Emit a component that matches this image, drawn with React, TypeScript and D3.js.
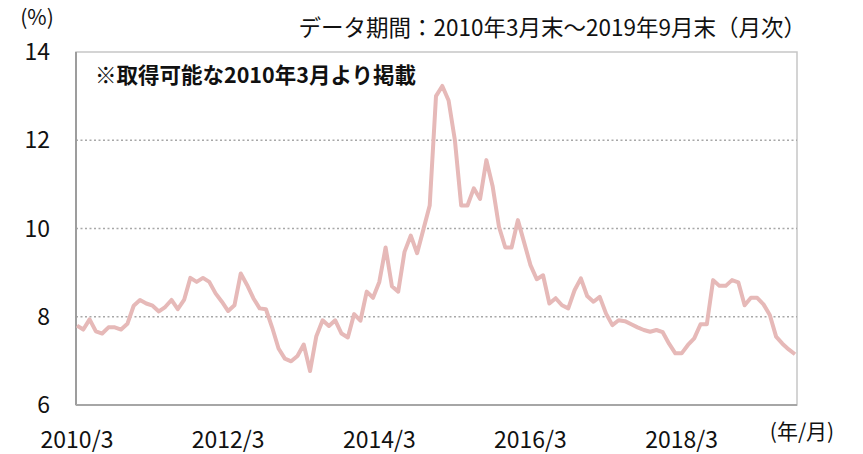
import React, { useEffect, useRef } from 'react';
import * as d3 from 'd3';

// monthly yield (%), 2010/3 .. 2019/9
const values = [
  7.8, 7.71, 7.94, 7.67, 7.62, 7.76, 7.76, 7.71, 7.84, 8.25,
  8.38, 8.3, 8.25, 8.12, 8.22, 8.38, 8.17, 8.38, 8.88, 8.79,
  8.88, 8.79, 8.53, 8.34, 8.13, 8.26, 8.98, 8.72, 8.42, 8.19,
  8.17, 7.75, 7.28, 7.05, 6.99, 7.11, 7.37, 6.77, 7.56, 7.92,
  7.79, 7.92, 7.62, 7.53, 8.06, 7.91, 8.57, 8.43, 8.79, 9.57,
  8.69, 8.57, 9.47, 9.84, 9.44, 9.98, 10.52, 13.0, 13.23, 12.9,
  12.0, 10.52, 10.52, 10.91, 10.67, 11.55, 10.95, 10.04, 9.57, 9.57,
  10.19, 9.68, 9.17, 8.85, 8.94, 8.3, 8.42, 8.26, 8.19, 8.6,
  8.87, 8.47, 8.34, 8.45, 8.07, 7.81, 7.92, 7.9, 7.83, 7.76,
  7.7, 7.66, 7.7, 7.65, 7.39, 7.17, 7.17, 7.36, 7.51, 7.83,
  7.83, 8.83, 8.7, 8.7, 8.83, 8.78, 8.26, 8.43, 8.43, 8.28,
  8.04, 7.55, 7.39, 7.26, 7.15,
];

const xTickLabels = ['2010/3', '2012/3', '2014/3', '2016/3', '2018/3'];
const yTicks = [6, 8, 10, 12, 14];
const gridLines = [8, 10, 12];

const title = 'データ期間：2010年3月末～2019年9月末（月次）';
const note = '※取得可能な2010年3月より掲載';

const FONT = '"Noto Sans CJK JP", "Noto Sans", sans-serif';

// months since 2010/3
const labelToIndex = (s: string) => {
  const [y, m] = s.split('/').map(Number);
  return (y - 2010) * 12 + (m - 3);
};

export default function App() {
  const ref = useRef<SVGSVGElement>(null);

  useEffect(() => {
    const svg = d3.select(ref.current);
    svg.selectAll('*').remove();

    const width = 863;
    const height = 454;
    const left = 76;
    const right = 797;
    const top = 52;
    const bottom = 405;

    svg.attr('width', width).attr('height', height);

    const x = d3.scaleLinear().domain([0, values.length - 1]).range([77, 795]);
    const y = d3.scaleLinear().domain([6, 14]).range([bottom, top]);

    // frame
    svg.append('rect')
      .attr('x', left).attr('y', top)
      .attr('width', right - left).attr('height', bottom - top)
      .attr('fill', 'none')
      .attr('stroke', '#c6c6c6')
      .attr('stroke-width', 1.5);

    // dotted grid
    svg.selectAll('line.grid')
      .data(gridLines)
      .enter()
      .append('line')
      .attr('class', 'grid')
      .attr('x1', left).attr('x2', right)
      .attr('y1', (d) => y(d)).attr('y2', (d) => y(d))
      .attr('stroke', '#a8a8a8')
      .attr('stroke-width', 1.5)
      .attr('stroke-dasharray', '2,2.5');

    // left + bottom axis lines
    svg.append('line')
      .attr('x1', left).attr('x2', left)
      .attr('y1', top).attr('y2', bottom)
      .attr('stroke', '#9d9d9d').attr('stroke-width', 2);
    svg.append('line')
      .attr('x1', left).attr('x2', right)
      .attr('y1', bottom).attr('y2', bottom)
      .attr('stroke', '#a6a6a6').attr('stroke-width', 2);

    const line = d3.line<number>()
      .x((_, i) => x(i))
      .y((d) => y(d));

    svg.append('path')
      .datum(values)
      .attr('d', line)
      .attr('fill', 'none')
      .attr('stroke', '#e6b9b8')
      .attr('stroke-width', 4)
      .attr('stroke-linejoin', 'round');

    // y tick labels
    svg.selectAll('text.ytick')
      .data(yTicks)
      .enter()
      .append('text')
      .attr('class', 'ytick')
      .attr('x', 50)
      .attr('y', (d) => y(d))
      .attr('dy', '0.35em')
      .attr('text-anchor', 'end')
      .attr('font-family', FONT)
      .attr('font-size', 23)
      .attr('fill', '#111')
      .text((d) => d);

    // x tick labels
    svg.selectAll('text.xtick')
      .data(xTickLabels)
      .enter()
      .append('text')
      .attr('class', 'xtick')
      .attr('x', (d) => x(labelToIndex(d)))
      .attr('y', 440)
      .attr('dy', '0.35em')
      .attr('text-anchor', 'middle')
      .attr('font-family', FONT)
      .attr('font-size', 23)
      .attr('fill', '#111')
      .text((d) => d);

    svg.append('text')
      .attr('x', 37).attr('y', 18).attr('dy', '0.35em')
      .attr('text-anchor', 'middle')
      .attr('font-family', FONT).attr('font-size', 21).attr('fill', '#111')
      .text('(%)');

    svg.append('text')
      .attr('x', 802).attr('y', 432).attr('dy', '0.35em')
      .attr('text-anchor', 'middle')
      .attr('font-family', FONT).attr('font-size', 21).attr('fill', '#111')
      .text('(年/月)');

    svg.append('text')
      .attr('x', 806).attr('y', 28).attr('dy', '0.35em')
      .attr('text-anchor', 'end')
      .attr('font-family', FONT).attr('font-size', 22.5).attr('fill', '#111')
      .text(title);

    svg.append('text')
      .attr('x', 95).attr('y', 75).attr('dy', '0.35em')
      .attr('font-family', FONT).attr('font-size', 21.5)
      .attr('font-weight', 600).attr('fill', '#111')
      .text(note);
  }, []);

  return (
    <svg
      ref={ref}
      style={{ position: 'absolute', left: 0, top: 0, background: '#fff' }}
    />
  );
}
